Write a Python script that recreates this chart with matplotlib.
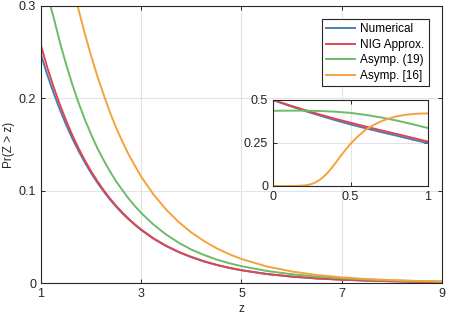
import matplotlib
matplotlib.use('Agg')
import matplotlib.pyplot as plt

plt.rcParams['font.family'] = ['Liberation Sans', 'DejaVu Sans']

# main plot, z from 1 to 9
z = [1, 1.125, 1.25, 1.375, 1.5, 1.625, 1.75, 1.875, 2, 2.125, 2.25, 2.375, 2.5, 2.625,
     2.75, 2.875, 3, 3.25, 3.5, 3.75, 4, 4.25, 4.5, 4.75, 5, 5.5, 6, 6.5, 7, 7.5, 8, 8.5, 9]
numerical = [0.247, 0.2255, 0.206, 0.188, 0.1715, 0.1565, 0.143, 0.1305, 0.119, 0.1087,
             0.0992, 0.0905, 0.0826, 0.0754, 0.0689, 0.0629, 0.0574, 0.0478, 0.0400, 0.0334,
             0.0280, 0.0234, 0.0196, 0.0164, 0.0138, 0.0097, 0.0069, 0.0049, 0.0036, 0.0026,
             0.0019, 0.0013, 0.0009]
nig = [0.257, 0.2335, 0.2125, 0.1935, 0.176, 0.1602, 0.1458, 0.1328, 0.1210, 0.1103,
       0.1005, 0.0916, 0.0835, 0.0762, 0.0695, 0.0634, 0.0578, 0.0481, 0.0402, 0.0336,
       0.0282, 0.0236, 0.0197, 0.0165, 0.0139, 0.0098, 0.0070, 0.0050, 0.0036, 0.0026,
       0.0019, 0.0013, 0.0009]
asymp19 = [0.338, 0.313, 0.288, 0.261, 0.237, 0.215, 0.195, 0.177, 0.161, 0.146,
           0.133, 0.121, 0.110, 0.1005, 0.0913, 0.0832, 0.0758, 0.0630, 0.0524, 0.0435,
           0.0362, 0.0304, 0.0255, 0.0215, 0.0182, 0.0131, 0.0095, 0.0069, 0.0051, 0.0038,
           0.0028, 0.0021, 0.0016]
asymp16 = [0.422, 0.412, 0.395, 0.374, 0.350, 0.322, 0.296, 0.270, 0.246, 0.224,
           0.204, 0.185, 0.168, 0.153, 0.139, 0.127, 0.115, 0.0955, 0.0793, 0.0659,
           0.0547, 0.0455, 0.0377, 0.0313, 0.0260, 0.0180, 0.0125, 0.0087, 0.0061, 0.0043,
           0.0031, 0.0022, 0.0016]

# inset, z from 0 to 1
zi = [0, 0.1, 0.2, 0.3, 0.4, 0.5, 0.6, 0.7, 0.8, 0.9, 1.0]
numerical_i = [0.500, 0.468, 0.438, 0.410, 0.383, 0.358, 0.335, 0.313, 0.292, 0.270, 0.249]
nig_i = [0.500, 0.471, 0.443, 0.416, 0.391, 0.368, 0.345, 0.323, 0.302, 0.280, 0.258]
asymp19_i = [0.437, 0.438, 0.438, 0.436, 0.432, 0.425, 0.413, 0.398, 0.380, 0.359, 0.337]
zi16 = [0, 0.1, 0.15, 0.175, 0.2, 0.225, 0.25, 0.275, 0.3, 0.325, 0.35, 0.375, 0.4, 0.425,
        0.45, 0.475, 0.5, 0.525, 0.55, 0.575, 0.6, 0.65, 0.7, 0.75, 0.8, 0.85, 0.9, 0.95, 1.0]
asymp16_i = [0.0, 0.0, 0.0005, 0.0015, 0.003, 0.006, 0.012, 0.021, 0.035, 0.053, 0.075,
             0.101, 0.130, 0.160, 0.190, 0.218, 0.245, 0.268, 0.290, 0.310, 0.328, 0.355,
             0.377, 0.393, 0.405, 0.413, 0.418, 0.421, 0.422]

labels = ['Numerical', 'NIG Approx.', 'Asymp. (19)', 'Asymp. [16]']
colors = ['#4a7db3', '#e0454d', '#6cbb69', '#f5a23c']


def style_axes(ax):
    ax.grid(True, color='#e3e3e3', linewidth=0.8)
    ax.set_axisbelow(True)
    ax.tick_params(direction='in', top=True, right=True, length=3,
                   labelsize=9, colors='#262626', width=0.7)
    for sp in ax.spines.values():
        sp.set_linewidth(0.8)
        sp.set_color('#262626')


fig = plt.figure(figsize=(4.5, 3.22), dpi=100)
ax = fig.add_axes([0.0911, 0.1211, 0.8911, 0.8603])

ax.plot(z, numerical, color=colors[0], lw=1.4, label=labels[0])
ax.plot(z, nig, color=colors[1], lw=1.4, label=labels[1])
ax.plot(z, asymp19, color=colors[2], lw=1.4, label=labels[2])
ax.plot(z, asymp16, color=colors[3], lw=1.4, label=labels[3])

ax.set_xlim(1, 9)
ax.set_ylim(0, 0.3)
ax.set_xticks([1, 3, 5, 7, 9])
ax.set_yticks([0, 0.1, 0.2, 0.3])
ax.set_yticklabels(['0', '0.1', '0.2', '0.3'])
style_axes(ax)
ax.set_xlabel('z', fontsize=8.5, color='#262626', labelpad=2)
ax.set_ylabel('Pr(Z > z)', fontsize=8.5, color='#262626', labelpad=3)

leg = ax.legend(loc='upper right', bbox_to_anchor=(0.953, 0.941),
                bbox_transform=fig.transFigure, fontsize=8.5, fancybox=False,
                edgecolor='#262626', framealpha=1, handlelength=2.4,
                handletextpad=0.5, borderpad=0.35, labelspacing=0.3,
                borderaxespad=0)
leg.get_frame().set_linewidth(0.8)

# inset
axi = fig.add_axes([0.6067, 0.4224, 0.3444, 0.2671])
axi.plot(zi, numerical_i, color=colors[0], lw=1.4)
axi.plot(zi, nig_i, color=colors[1], lw=1.4)
axi.plot(zi, asymp19_i, color=colors[2], lw=1.4)
axi.plot(zi16, asymp16_i, color=colors[3], lw=1.4)
axi.set_xlim(0, 1)
axi.set_ylim(0, 0.5)
axi.set_xticks([0, 0.5, 1])
axi.set_xticklabels(['0', '0.5', '1'])
axi.set_yticks([0, 0.25, 0.5])
axi.set_yticklabels(['0', '0.25', '0.5'])
style_axes(axi)

fig.savefig('out.png', dpi=100)
